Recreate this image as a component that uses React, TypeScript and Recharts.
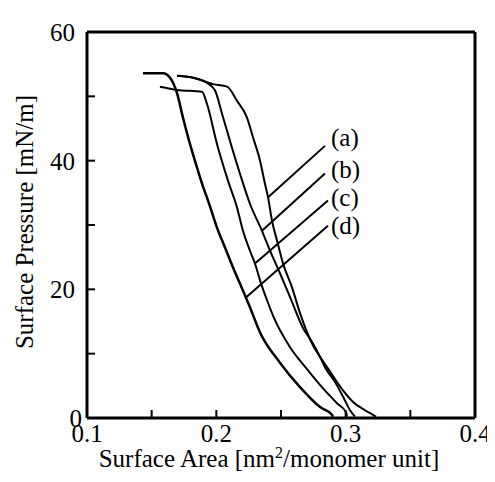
import { LineChart, Line, XAxis, YAxis, ReferenceLine, ReferenceDot, Label } from 'recharts'

// surface area [nm2/monomer unit] vs surface pressure [mN/m]
const areaA = [0.1696, 0.182, 0.1974, 0.2083, 0.216, 0.2237, 0.2284, 0.2338, 0.2376, 0.24, 0.243, 0.2469, 0.2516, 0.2585, 0.2647, 0.2747, 0.2802, 0.2856, 0.2979, 0.3057, 0.315, 0.3211, 0.3235]
const pressureA = [53.2, 52.9, 51.9, 51.5, 49.3, 46.7, 43.6, 40.0, 36.4, 34.3, 30.7, 27.6, 24.0, 20.3, 16.3, 11.3, 9.5, 7.9, 4.3, 2.5, 1.2, 0.5, 0.2]

const areaB = [0.1696, 0.182, 0.1928, 0.199, 0.2044, 0.2121, 0.2206, 0.226, 0.2353, 0.2415, 0.2492, 0.257, 0.267, 0.2747, 0.2802, 0.284, 0.2918, 0.298, 0.3034, 0.3072]
const pressureB = [53.2, 52.9, 52.1, 50.9, 47.3, 42.0, 36.5, 33.3, 29.1, 26.0, 22.5, 18.8, 14.0, 11.6, 9.5, 7.9, 5.6, 3.3, 1.2, 0.2]

const areaC = [0.1564, 0.1696, 0.1889, 0.1928, 0.2005, 0.209, 0.216, 0.2206, 0.226, 0.2299, 0.2338, 0.2392, 0.2445, 0.257, 0.2701, 0.2825, 0.2933, 0.3005, 0.301]
const pressureC = [51.5, 51.0, 50.7, 48.8, 42.6, 36.9, 32.7, 29.1, 26.0, 24.0, 21.4, 18.3, 15.6, 11.0, 7.6, 4.6, 2.3, 0.8, 0.2]

const areaD = [0.1433, 0.1588, 0.1642, 0.1696, 0.1742, 0.1796, 0.1851, 0.1893, 0.1936, 0.2005, 0.2067, 0.2129, 0.2206, 0.226, 0.2338, 0.2492, 0.2647, 0.2802, 0.2894, 0.2902]
const pressureD = [53.6, 53.6, 52.9, 50.5, 46.7, 42.6, 38.9, 36.2, 33.8, 29.6, 26.5, 23.4, 19.8, 17.2, 13.3, 8.6, 4.8, 1.7, 0.5, 0.2]

// leader lines from each curve to its label
const curveNames = ['(a)', '(b)', '(c)', '(d)']
const leaderFromArea = [0.24, 0.2353, 0.2299, 0.2222]
const leaderFromPressure = [34.3, 29.1, 24.0, 18.6]
const leaderToArea = [0.284, 0.284, 0.2863, 0.2863]
const leaderToPressure = [42.3, 38.0, 33.8, 29.9]
const nameArea = [0.2887, 0.2887, 0.2887, 0.2887]
const namePressure = [43.6, 38.7, 34.3, 30.0]

const xTicks = [0.1, 0.15, 0.2, 0.25, 0.3, 0.35, 0.4]
const xTickLabels = ['0.1', '', '0.2', '', '0.3', '', '0.4']
const yTicks = [0, 10, 20, 30, 40, 50, 60]
const yTickLabels = ['0', '', '20', '', '40', '', '60']

const font = '"Liberation Serif", "Times New Roman", serif'
const axisLine = { stroke: '#000', strokeWidth: 3 }
const tickLine = { stroke: '#000', strokeWidth: 2 }

const toPoints = (xs: number[], ys: number[]) => xs.map((x, i) => ({ x, y: ys[i] }))

const curves = [
  { key: 'a', data: toPoints(areaA, pressureA), width: 2 },
  { key: 'b', data: toPoints(areaB, pressureB), width: 2 },
  { key: 'c', data: toPoints(areaC, pressureC), width: 2 },
  { key: 'd', data: toPoints(areaD, pressureD), width: 2.5 },
]

const labelFor = (list: string[], ticks: number[], v: number) => {
  const i = ticks.findIndex((t) => Math.abs(t - v) < 1e-6)
  return i < 0 ? '' : list[i]
}

function YTick(props: any) {
  const { x, y, payload } = props
  const text = labelFor(yTickLabels, yTicks, payload.value)
  if (!text) return null
  return (
    <text x={x + (payload.value === 0 ? 7 : 0)} y={y} dy="0.355em" textAnchor="end" fontSize={25} fontFamily={font} fill="#000">
      {text}
    </text>
  )
}

function XTitle(props: any) {
  const { x, y, width } = props.viewBox
  return (
    <text x={x + width / 2 - 12} y={y + 49} textAnchor="middle" fontSize={25} fontFamily={font} fill="#000">
      Surface Area [nm<tspan dy={-9} fontSize={16}>2</tspan>
      <tspan dy={9}>/monomer unit]</tspan>
    </text>
  )
}

function YTitle(props: any) {
  const { y, height } = props.viewBox
  const cy = y + height / 2 - 3
  return (
    <text x={25} y={cy} transform={`rotate(-90, 25, ${cy})`} textAnchor="middle" fontSize={25} fontFamily={font} fill="#000">
      Surface Pressure [mN/m]
    </text>
  )
}

export default function App() {
  return (
    <LineChart width={487} height={474} margin={{ top: 20, right: 16, bottom: 0, left: 0 }}>
      <XAxis
        xAxisId="bottom"
        type="number"
        dataKey="x"
        domain={[0.1, 0.4]}
        ticks={xTicks}
        interval={0}
        height={64}
        axisLine={axisLine}
        tickLine={tickLine}
        tickSize={-8}
        tickMargin={14}
        tick={{ fontSize: 25, fontFamily: font, fill: '#000' }}
        tickFormatter={(v) => labelFor(xTickLabels, xTicks, v)}
      >
        <Label content={XTitle} />
      </XAxis>
      <XAxis
        xAxisId="top"
        orientation="top"
        type="number"
        dataKey="x"
        domain={[0.1, 0.4]}
        ticks={xTicks}
        interval={0}
        height={4}
        axisLine={axisLine}
        tickLine={tickLine}
        tickSize={-8}
        tick={false}
      />
      <YAxis
        yAxisId="left"
        type="number"
        domain={[0, 60]}
        ticks={yTicks}
        interval={0}
        width={79}
        axisLine={axisLine}
        tickLine={tickLine}
        tickSize={-8}
        tickMargin={20}
        tick={<YTick />}
      >
        <Label content={YTitle} />
      </YAxis>
      <YAxis
        yAxisId="right"
        orientation="right"
        type="number"
        domain={[0, 60]}
        ticks={yTicks}
        interval={0}
        width={4}
        axisLine={axisLine}
        tickLine={tickLine}
        tickSize={-8}
        tick={false}
      />
      {curves.map((c) => (
        <Line
          key={c.key}
          xAxisId="bottom"
          yAxisId="left"
          data={c.data}
          dataKey="y"
          type="monotone"
          stroke="#000"
          strokeWidth={c.width}
          dot={false}
          activeDot={false}
          isAnimationActive={false}
        />
      ))}
      {curveNames.map((name, i) => (
        <ReferenceLine
          key={'leader' + i}
          xAxisId="bottom"
          yAxisId="left"
          segment={[
            { x: leaderFromArea[i], y: leaderFromPressure[i] },
            { x: leaderToArea[i], y: leaderToPressure[i] },
          ]}
          stroke="#000"
          strokeWidth={2}
        />
      ))}
      {curveNames.map((name, i) => (
        <ReferenceDot
          key={'name' + i}
          xAxisId="bottom"
          yAxisId="left"
          x={nameArea[i]}
          y={namePressure[i]}
          r={0}
          fill="none"
          stroke="none"
          label={{ value: name, position: 'right', offset: 0, fontSize: 25, fontFamily: font, fill: '#000' }}
        />
      ))}
    </LineChart>
  )
}
